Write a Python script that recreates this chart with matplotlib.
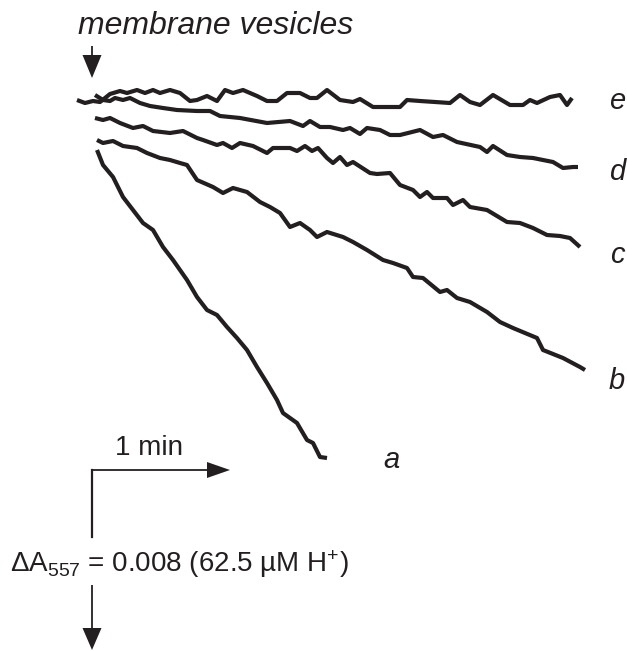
import matplotlib
matplotlib.use("Agg")
import matplotlib.pyplot as plt

# traces (x = time axis, y = absorbance axis, image units, y grows downwards)
e_x = [77, 85, 93, 100, 105, 110, 120, 127, 137, 145, 153, 160, 170, 180, 190, 197, 207, 217, 225, 233,
       243, 257, 267, 277, 287, 300, 310, 317, 327, 340, 353, 360, 373, 400, 407, 420, 450, 460, 470, 480,
       493, 510, 523, 530, 537, 550, 560, 567, 572]
e_y = [100, 103, 101, 102, 98, 94, 91, 93, 90, 93, 90, 93, 90, 93, 101, 100, 96, 101, 90, 93,
       90, 96, 101, 101, 93, 93, 98, 98, 90, 100, 102, 99, 107, 107, 100, 101, 103, 95, 102, 105,
       95, 105, 105, 100, 103, 97, 95, 105, 98]

d_x = [95, 103, 110, 115, 123, 130, 140, 150, 163, 177, 197, 210, 220, 240, 267, 290, 303, 310, 320, 330,
       343, 350, 360, 367, 380, 390, 400, 420, 433, 443, 457, 480, 487, 493, 507, 520, 533, 553, 563, 573, 578]
d_y = [95, 100, 101, 98, 100, 98, 103, 106, 108, 110, 111, 111, 116, 118, 123, 121, 126, 121, 127, 127,
       130, 128, 134, 128, 130, 135, 135, 130, 137, 135, 142, 147, 152, 146, 155, 157, 158, 162, 168, 167, 167]

c_x = [95, 103, 110, 120, 133, 143, 153, 170, 183, 197, 203, 217, 223, 232, 240, 253, 267, 273, 290, 297,
       305, 312, 318, 327, 333, 340, 347, 353, 370, 377, 390, 400, 413, 420, 427, 433, 447, 453, 463, 470,
       487, 507, 520, 533, 547, 560, 570, 580]
c_y = [118, 120, 118, 123, 128, 126, 131, 133, 131, 138, 140, 145, 143, 148, 143, 146, 153, 148, 148, 151,
       146, 151, 148, 158, 163, 157, 165, 162, 173, 174, 173, 185, 190, 197, 192, 198, 198, 205, 200, 207,
       210, 222, 223, 228, 235, 236, 238, 247]

b_x = [97, 103, 113, 123, 137, 147, 160, 170, 180, 187, 197, 213, 223, 233, 247, 260, 270, 280, 290, 300,
       310, 317, 327, 343, 353, 367, 383, 393, 407, 413, 423, 440, 447, 457, 470, 487, 500, 513, 537, 543,
       563, 580, 585]
b_y = [140, 143, 141, 146, 148, 153, 158, 160, 163, 165, 180, 187, 193, 188, 192, 202, 207, 213, 227, 223,
       230, 237, 232, 237, 242, 250, 260, 263, 268, 277, 278, 292, 290, 298, 302, 312, 322, 328, 338, 350,
       358, 367, 370]

a_x = [97, 103, 113, 123, 133, 143, 153, 163, 173, 187, 197, 207, 217, 227, 237, 247, 257, 267, 277, 283,
       297, 307, 313, 320, 327]
a_y = [150, 165, 177, 197, 210, 223, 230, 247, 260, 280, 297, 310, 315, 327, 338, 350, 367, 383, 400, 413,
       423, 440, 443, 457, 458]

traces = {'a': (a_x, a_y), 'b': (b_x, b_y), 'c': (c_x, c_y), 'd': (d_x, d_y), 'e': (e_x, e_y)}
label_pos = {'a': (391, 460), 'b': (617, 381), 'c': (617, 255), 'd': (617, 172), 'e': (617, 101)}

ink = '#231f20'
plt.rcParams['font.family'] = ['Liberation Sans', 'DejaVu Sans']
plt.rcParams['mathtext.fontset'] = 'custom'
plt.rcParams['mathtext.rm'] = 'Liberation Sans'
plt.rcParams['mathtext.default'] = 'regular'

fig = plt.figure(figsize=(6.27, 6.51), dpi=100)
ax = fig.add_axes([0, 0, 1, 1])
ax.set_xlim(0, 627)
ax.set_ylim(651, 0)
ax.axis('off')

for name, (xs, ys) in traces.items():
    ax.plot(xs, ys, color=ink, lw=3.0, solid_joinstyle='round', solid_capstyle='butt')
    lx, ly = label_pos[name]
    ax.text(lx, ly, name, fontsize=21, style='italic', color=ink, ha='center', va='center')

# addition arrow
ax.text(78, 34, 'membrane vesicles', fontsize=23, style='italic', color=ink, ha='left', va='baseline')
ax.arrow(92, 46, 0, 32, width=1.8, head_width=19, head_length=23, length_includes_head=True,
         color=ink, lw=0)

# scale bars
ax.plot([92, 92], [537, 470], color=ink, lw=1.6)
ax.arrow(92, 470, 138, 0, width=1.8, head_width=16, head_length=23, length_includes_head=True,
         color=ink, lw=0)
ax.text(115, 455, '1 min', fontsize=20, color=ink, ha='left', va='baseline')
ax.arrow(92, 585, 0, 65, width=1.8, head_width=19, head_length=22, length_includes_head=True,
         color=ink, lw=0)
ax.text(10, 572, r'ΔA$_{557}$ = 0.008 (62.5 µM H$^{+}$)', fontsize=20, color=ink,
        ha='left', va='baseline')

fig.savefig('out.png', dpi=100)
